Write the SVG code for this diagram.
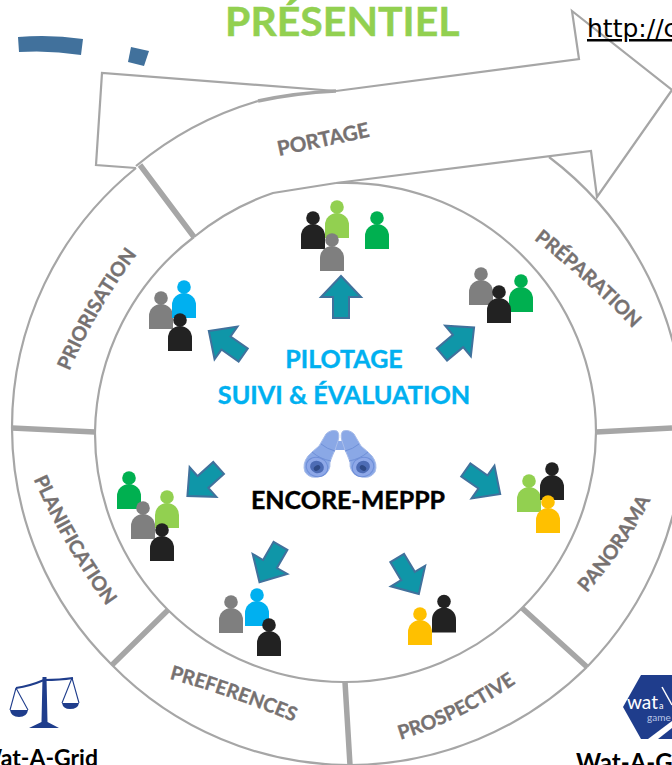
<svg xmlns="http://www.w3.org/2000/svg" xmlns:xlink="http://www.w3.org/1999/xlink" width="672" height="765" viewBox="0 0 672 765">
<style>
.ln{fill:none;stroke:#a6a6a6;stroke-width:2.2}
.dv{fill:none;stroke:#a6a6a6;stroke-width:5.5}
.lb{font:bold 19.5px Lato,"Liberation Sans",sans-serif;fill:#767171;stroke:#767171;stroke-width:.35}
.ar{fill:#0f96a8;stroke:#41719c;stroke-width:2}
.k{fill:#222222}.g{fill:#7f7f7f}.lg{fill:#92d050}.dg{fill:#00b050}.b{fill:#00b0f0}.y{fill:#ffc000}
.t{font-family:Lato,"Liberation Sans",sans-serif;font-weight:bold}
.h{stroke-width:.4}
</style>
<defs>
<g id="p"><circle r="6.8"/><path d="M-12 31V18A12 12 0 0 1 12 18V31Z"/></g>
<polygon id="a" points="0,-21 20,0 8,0 8,21 -8,21 -8,0 -20,0"/>
<path id="p1" d="M59 389L69 372Q97 307 139 252L149 238"/>
<path id="p2" d="M514 224L528 235Q590 282 640 336L650 347"/>
<path id="p3" d="M578 610L586 594Q625 550 651 499L659 483"/>
<path id="p4" d="M380 748L396 741Q460 722 519 681L534 670"/>
<path id="p5" d="M150 673L166 678Q230 695 296 723L312 730"/>
<path id="p6" d="M24 462L32 476Q63 546 108 608L118 622"/>
<g id="bar">
<path d="M326 434Q331 429 337 431Q340 434 338 441L335 450Q333 454 330 462Q331 472 322 476Q310 480 305 472Q302 464 308 456Q314 450 319 446Z" fill="#8aa8e6" stroke="#a9bdea"/>
<path d="M321 444Q327 449 335 451M312 452Q320 459 331 461" fill="none" stroke="#6f90d8"/>
<ellipse cx="317" cy="467" rx="11" ry="9.5" fill="#8ea8e8" stroke="#6f8fd8" transform="rotate(20 317 467)"/>
<ellipse cx="317" cy="467" rx="7" ry="6" fill="#4d6cb5" transform="rotate(20 317 467)"/>
<ellipse cx="317" cy="468" rx="3.5" ry="2.5" fill="#2f4a86" transform="rotate(-35 317 468)"/>
</g>
</defs>

<g id="connectors">
<path class="ln" d="M136 168L96 165L102 73L336 91"/>
<path class="ln" d="M336 91L579 59L572 11L672 90L597 197L591 151L336 183"/>
<path class="ln" d="M136 166A337 337 0 0 1 258 101"/>
<path class="ln" style="stroke-width:3.5" d="M258 101Q295 93 336 91"/>
<path class="ln" d="M194 237A250 250 0 0 1 273 193L336 183"/>
<path class="ln" d="M336 183A250 250 0 0 1 596 432"/>
<path class="ln" d="M549 157A341 341 0 0 1 684 430A341 341 0 0 1 587 667"/>
<path class="ln" d="M587 667A340 340 0 0 1 350 765A333 333 0 0 1 112 665A333 333 0 0 1 12 428A333 333 0 0 1 136 168"/>
<path class="ln" d="M194 237A250 250 0 0 0 95 432A250 250 0 0 0 168 610A250 250 0 0 0 345 682A250 250 0 0 0 522 608A250 250 0 0 0 596 432"/>
<path class="dv" d="M140 165L194 237M12 428L95 432M112 665L168 610M345 682L350 765M522 608L587 667M596 432L672 428"/>
</g>

<g id="deco" fill="#41719c"><path d="M18 37Q50 34 83 39L81 55Q50 50 19 52Z"/><path d="M131 47L149 51L144 66L128 62Z"/></g>
<text id="title" class="t h" x="225" y="36" font-size="41" fill="#92d050" stroke="#92d050">PRÉSENTIEL</text>
<text id="url" x="587" y="37" font-family="DejaVu Sans,sans-serif" font-size="25" text-decoration="underline" fill="#000">http://c</text>

<g id="lb-portage"><text class="lb" transform="translate(279 156) rotate(-12)" style="font-size:20.5px">PORTAGE</text></g>
<g id="lb-prep"><text class="lb"><textPath href="#p2" xlink:href="#p2" startOffset="50%" text-anchor="middle">PRÉPARATION</textPath></text></g>
<g id="lb-prio"><text class="lb"><textPath href="#p1" xlink:href="#p1" startOffset="50%" text-anchor="middle">PRIORISATION</textPath></text></g>
<g id="lb-plan"><text class="lb"><textPath href="#p6" xlink:href="#p6" startOffset="50%" text-anchor="middle">PLANIFICATION</textPath></text></g>
<g id="lb-pref"><text class="lb"><textPath href="#p5" xlink:href="#p5" startOffset="50%" text-anchor="middle">PREFERENCES</textPath></text></g>
<g id="lb-prosp"><text class="lb"><textPath href="#p4" xlink:href="#p4" startOffset="50%" text-anchor="middle">PROSPECTIVE</textPath></text></g>
<g id="lb-pano"><text class="lb"><textPath href="#p3" xlink:href="#p3" startOffset="50%" text-anchor="middle">PANORAMA</textPath></text></g>

<g id="centre">
<text class="t h" x="344" y="368" font-size="25" fill="#00b0f0" stroke="#00b0f0" text-anchor="middle">PILOTAGE</text>
<text class="t h" x="344" y="404" font-size="25.2" fill="#00b0f0" stroke="#00b0f0" text-anchor="middle">SUIVI &amp; ÉVALUATION</text>
<text class="t h" x="348" y="509" font-size="25" fill="#000" stroke="#000" text-anchor="middle">ENCORE-MEPPP</text>
<g id="binoculars">
<rect x="334" y="441" width="12" height="9" rx="2" fill="#8aa8e6"/>
<use href="#bar" xlink:href="#bar"/>
<use href="#bar" xlink:href="#bar" transform="translate(680 0) scale(-1 1)"/>
</g>
</g>

<g id="arrows" class="ar">
<use href="#a" xlink:href="#a" transform="translate(341 297)"/>
<use href="#a" xlink:href="#a" transform="translate(226 343) rotate(-55)"/>
<use href="#a" xlink:href="#a" transform="translate(458 341) rotate(50)"/>
<use href="#a" xlink:href="#a" transform="translate(203 482) rotate(-132)"/>
<use href="#a" xlink:href="#a" transform="translate(270 564) rotate(210)"/>
<use href="#a" xlink:href="#a" transform="translate(408 576) rotate(149)"/>
<use href="#a" xlink:href="#a" transform="translate(483 482) rotate(125)"/>
</g>

<g id="group-top">
<use href="#p" xlink:href="#p" class="k" x="313" y="218"/><use href="#p" xlink:href="#p" class="lg" x="337" y="207"/><use href="#p" xlink:href="#p" class="dg" x="377" y="218"/><use href="#p" xlink:href="#p" class="g" x="332" y="240"/>
</g>
<g id="group-prio">
<use href="#p" xlink:href="#p" class="g" x="161" y="298"/><use href="#p" xlink:href="#p" class="b" x="184" y="287"/><use href="#p" xlink:href="#p" class="k" x="180" y="320"/>
</g>
<g id="group-prep">
<use href="#p" xlink:href="#p" class="g" x="481" y="274"/><use href="#p" xlink:href="#p" class="dg" x="521" y="281"/><use href="#p" xlink:href="#p" class="k" x="499" y="292"/>
</g>
<g id="group-plan">
<use href="#p" xlink:href="#p" class="dg" x="129" y="478"/><use href="#p" xlink:href="#p" class="lg" x="167" y="497"/><use href="#p" xlink:href="#p" class="g" x="143" y="508"/><use href="#p" xlink:href="#p" class="k" x="162" y="530"/>
</g>
<g id="group-pref">
<use href="#p" xlink:href="#p" class="g" x="231" y="602"/><use href="#p" xlink:href="#p" class="b" x="257" y="595"/><use href="#p" xlink:href="#p" class="k" x="269" y="625"/>
</g>
<g id="group-prosp">
<use href="#p" xlink:href="#p" class="k" x="444" y="601.5"/><use href="#p" xlink:href="#p" class="y" x="420" y="614"/>
</g>
<g id="group-pano">
<use href="#p" xlink:href="#p" class="lg" x="529" y="481"/><use href="#p" xlink:href="#p" class="k" x="552" y="469"/><use href="#p" xlink:href="#p" class="y" x="548" y="502"/>
</g>

<g id="wat-a-grid">
<g fill="#1f3d8c" stroke="none"><path d="M42.5 677H46.5L47.5 722L59 728H29L41.5 722Z"/><path d="M10 710H28Q27 717 19 717Q11 717 10 710Z"/><path d="M62 703H79Q78 709 70 709Q63 709 62 703Z"/></g>
<path d="M16 688Q30 686 44 680Q60 680 73 678" fill="none" stroke="#1f3d8c" stroke-width="2"/>
<path d="M16 688L10 710M16 688L28 710M72 678L62 703M72 678L79 703" fill="none" stroke="#1f3d8c" stroke-width="1.1"/>
<text class="t" x="98" y="766" font-size="23" text-anchor="end" fill="#000">Wat-A-Grid</text>
</g>
<g id="wat-a-game">
<path d="M623 707L641 675H680V739H641Z" fill="#1f3d8c"/>
<text x="627" y="709" font-family="Lato,sans-serif" font-size="19" fill="#fff" textLength="31" lengthAdjust="spacingAndGlyphs">wat</text>
<text x="659" y="709" font-family="Lato,sans-serif" font-size="9" fill="#fff">a</text>
<text x="647" y="721" font-family="Lato,sans-serif" font-size="10" fill="#b9c6e6">game</text>
<path d="M662 687L672 705" stroke="#fff" stroke-width="1.5" fill="none"/>
<path d="M648 739L672 721V728L658 739Z" fill="#fff"/>
<text class="t" x="576" y="771" font-size="24" fill="#000">Wat-A-Game</text>
</g>
</svg>
